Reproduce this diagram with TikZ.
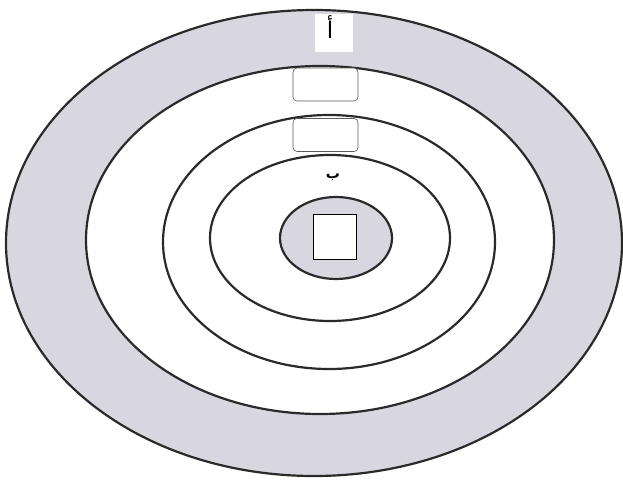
\documentclass[tikz,border=0pt]{standalone}
\usepackage{fontspec}
\newfontfamily\arabicfont[Script=Arabic]{DejaVu Sans}
\TeXXeTstate=1
\definecolor{ringgray}{HTML}{D8D7DF}
\definecolor{linegray}{HTML}{2A2A2A}
\begin{document}
\begin{tikzpicture}[x=1pt,y=-1pt,
  ring/.style={draw=linegray, line width=2.2pt},
  roundbox/.style={draw=gray!70!black, line width=0.6pt, fill=white, rounded corners=4pt, minimum width=65pt, minimum height=33pt, inner sep=0pt},
  sqbox/.style={draw=black, line width=0.7pt, fill=white, minimum width=43pt, minimum height=45pt, inner sep=0pt},
  arlabel/.style={font=\arabicfont, inner sep=0pt}]
\useasboundingbox[fill=white] (0,0) rectangle (623,479);
% rings
\fill[ringgray] (314,243) ellipse [x radius=308pt, y radius=233pt];
\draw[ring, fill=white] (320,240) ellipse [x radius=234pt, y radius=174pt];
\draw[ring] (329,242) ellipse [x radius=166pt, y radius=127pt];
\draw[ring] (330,238) ellipse [x radius=120pt, y radius=83pt];
\draw[ring, fill=ringgray] (336,238) ellipse [x radius=56pt, y radius=41pt];
\draw[ring] (314,243) ellipse [x radius=308pt, y radius=233pt];
% label box a
\node[fill=white, minimum width=38pt, minimum height=38pt, inner sep=0pt] (boxa) at (334,33) {};
\node[arlabel, font=\arabicfont\fontsize{23}{25}\selectfont] (laba) at (330,27) {\beginR أ\endR};
% rounded boxes
\node[roundbox] (box1) at (325.5,84.5) {};
\node[roundbox] (box2) at (325.5,135) {};
% label b
\node[arlabel, font=\arabicfont\bfseries\fontsize{14}{16}\selectfont] (labb) at (333,177) {\beginR ب\endR};
% centre square
\node[sqbox] (sq) at (334.5,236.5) {};
\end{tikzpicture}
\end{document}
